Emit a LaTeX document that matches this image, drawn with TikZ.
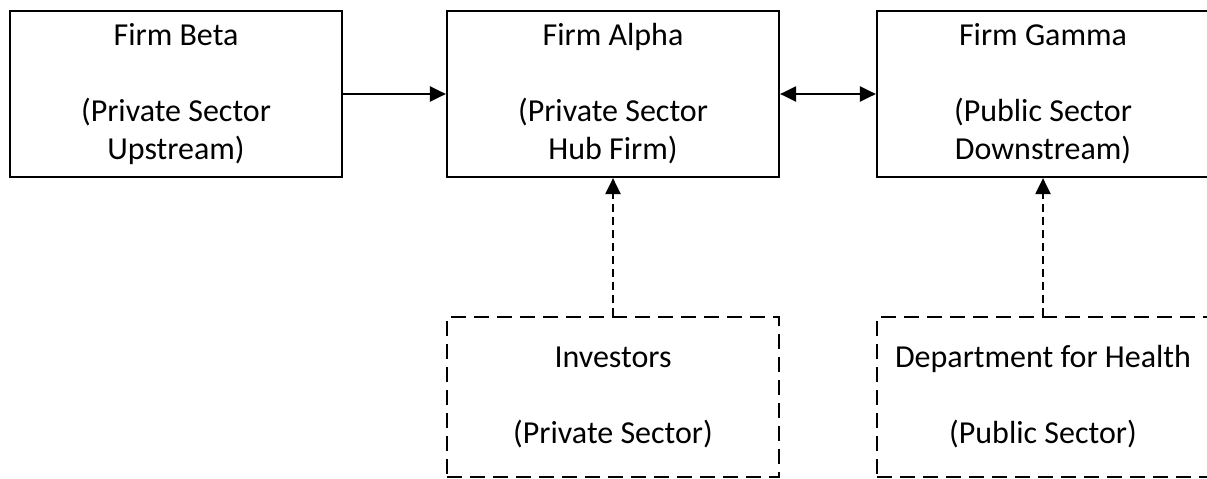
\documentclass[tikz,border=0pt]{standalone}
\usepackage{fontspec}
\setmainfont{Carlito}
\usetikzlibrary{arrows.meta}
\tikzset{
  firmbox/.style={draw, line width=2.2pt, minimum width=332pt, minimum height=166pt, align=center, inner sep=0pt, font=\fontsize{32}{38}\selectfont},
  outbox/.style={draw, line width=2.2pt, dash pattern=on 15pt off 8pt, minimum width=332pt, minimum height=160pt, align=center, inner sep=0pt, font=\fontsize{32}{38}\selectfont},
  solidarrow/.style={line width=2.2pt, -{Triangle[length=16pt,width=15pt]}},
  bothways/.style={line width=2.2pt, {Triangle[length=16pt,width=15pt]}-{Triangle[length=16pt,width=15pt]}},
  dasharrow/.style={line width=2.2pt, dash pattern=on 8pt off 5pt, -{Triangle[length=16pt,width=15pt]}}
}
\begin{document}
\begin{tikzpicture}[x=1pt,y=-1pt]
\useasboundingbox (0,0) rectangle (1207,479);
\node[firmbox] (beta) at (176,94) {Firm Beta\\~\\(Private Sector\\Upstream)};
\node[firmbox] (alpha) at (613,94) {Firm Alpha\\~\\(Private Sector\\Hub Firm)};
\node[firmbox] (gamma) at (1043,94) {Firm Gamma\\~\\(Public Sector\\Downstream)};
\node[outbox] (inv) at (613,397) {Investors\\~\\(Private Sector)};
\node[outbox] (dept) at (1043,397) {Department for Health\\~\\(Public Sector)};
\draw[solidarrow] (beta.east) -- (alpha.west);
\draw[bothways] (alpha.east) -- (gamma.west);
\draw[dasharrow] (inv.north) -- (alpha.south);
\draw[dasharrow] (dept.north) -- (gamma.south);
\end{tikzpicture}
\end{document}
